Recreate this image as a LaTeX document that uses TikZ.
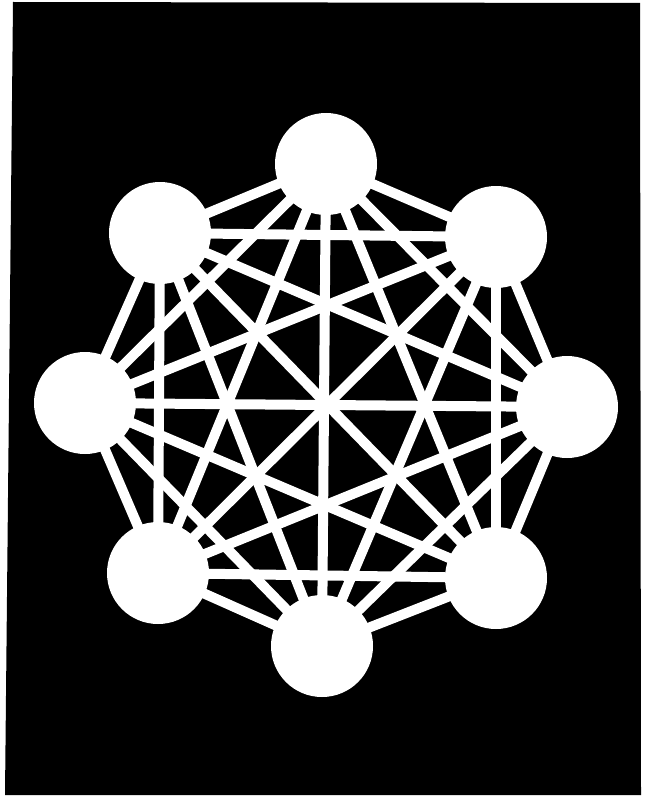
\documentclass[tikz,border=0pt]{standalone}
\pgfdeclarelayer{back}
\pgfdeclarelayer{background}
\pgfsetlayers{back,background,main}
\tikzset{
  vertex/.style={circle, fill=white, draw=none, minimum size=102pt, inner sep=0pt},
  edge/.style={white, line width=10pt}
}
\begin{document}
\begin{tikzpicture}[x=1pt,y=-1pt]
\useasboundingbox (0,0) rectangle (652,797);
\begin{pgfonlayer}{back}
\fill[black] (13,2) -- (640,3) -- (641,795) -- (5,795) -- cycle;
\end{pgfonlayer}
\node[vertex] (n1) at (326,164) {};
\node[vertex] (n2) at (496,237) {};
\node[vertex] (n3) at (567,407) {};
\node[vertex] (n4) at (496,578) {};
\node[vertex] (n5) at (322,646) {};
\node[vertex] (n6) at (158,573) {};
\node[vertex] (n7) at (85,403) {};
\node[vertex] (n8) at (160,233) {};
\begin{pgfonlayer}{background}
\foreach \i in {1,...,8}{
  \foreach \j in {1,...,8}{
    \ifnum\i<\j
      \draw[edge] (n\i.center) -- (n\j.center);
    \fi
  }
}
\end{pgfonlayer}
\end{tikzpicture}
\end{document}
